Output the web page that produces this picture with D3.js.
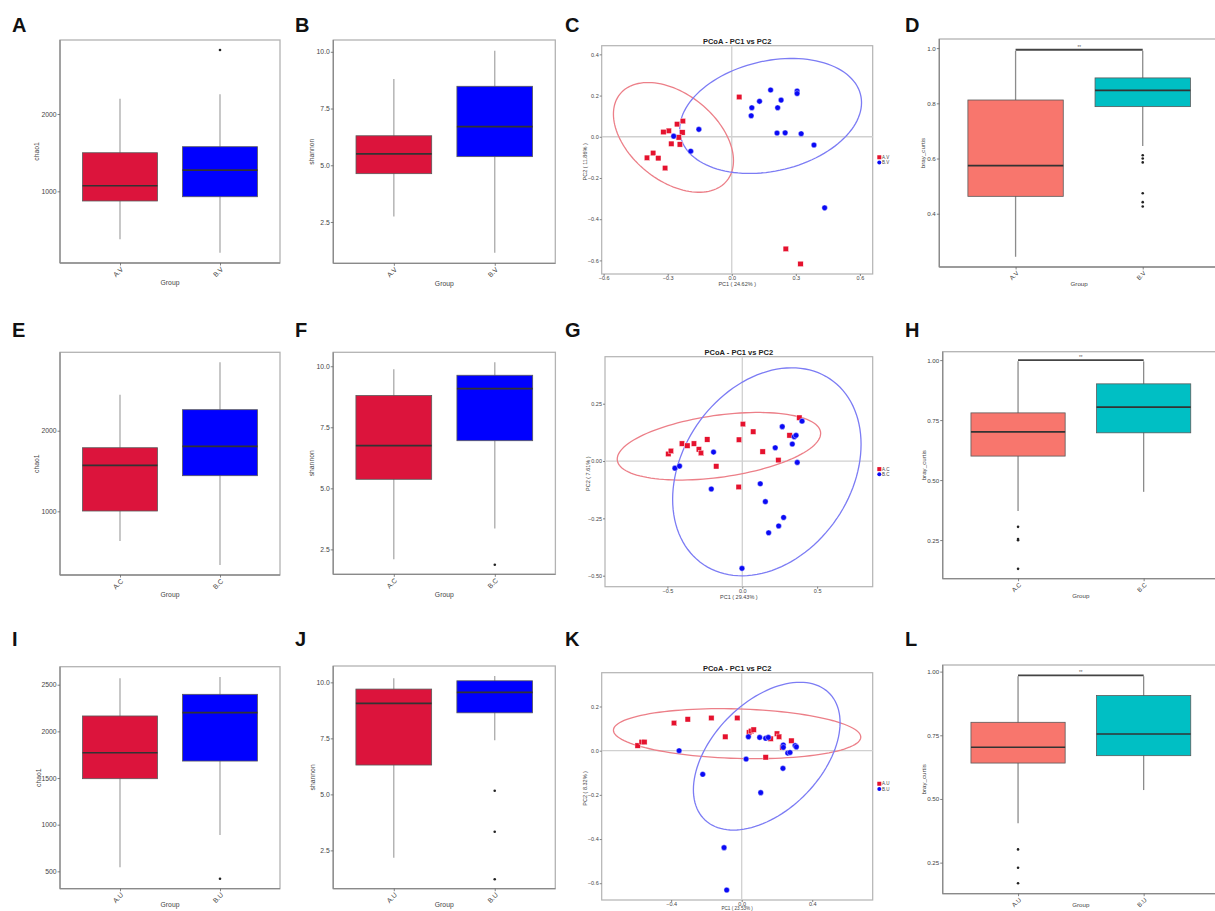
<!DOCTYPE html>
<html><head><meta charset="utf-8">
<script src="https://cdn.jsdelivr.net/npm/d3@7"></script>
<style>
body{margin:0;background:#fff}
svg{display:block;font-family:"Liberation Sans",Arial,sans-serif}
</style>
</head><body>
<script>
// ---------------- DATA ----------------
const groupsV = ["A.V", "B.V"];
const groupsC = ["A.C", "B.C"];
const groupsU = ["A.U", "B.U"];

// boxplot stats per group: [lower whisker, Q1, median, Q3, upper whisker]
const chao1V = [[379, 875, 1072, 1499, 2198], [206, 930, 1275, 1577, 2255]];
const chao1VOut = [[], [2828]];
const shannonV = [[2.74, 4.63, 5.50, 6.30, 8.80], [1.15, 5.38, 6.70, 8.48, 10.05]];
const shannonVOut = [[], []];
const brayV = [[0.244, 0.463, 0.574, 0.812, 0.990], [0.645, 0.788, 0.847, 0.892, 0.990]];
const brayVOut = [[], [0.612, 0.600, 0.586, 0.474, 0.442, 0.426]];

const chao1C = [[632, 1004, 1571, 1789, 2447], [334, 1442, 1806, 2261, 2849]];
const chao1COut = [[], []];
const shannonC = [[2.10, 5.37, 6.75, 8.80, 9.88], [3.36, 6.95, 9.08, 9.63, 10.16]];
const shannonCOut = [[], [1.87]];
const brayC = [[0.371, 0.600, 0.701, 0.780, 0.995], [0.451, 0.697, 0.804, 0.901, 0.995]];
const brayCOut = [[0.305, 0.254, 0.249, 0.130], []];

const chao1U = [[543, 1493, 1771, 2165, 2569], [889, 1682, 2200, 2397, 2582]];
const chao1UOut = [[], [421]];
const shannonU = [[2.17, 6.31, 9.06, 9.70, 10.18], [7.42, 8.64, 9.55, 10.07, 10.28]];
const shannonUOut = [[], [5.16, 3.33, 1.21]];
const brayU = [[0.405, 0.641, 0.703, 0.801, 0.982], [0.535, 0.670, 0.755, 0.906, 0.982]];
const brayUOut = [[0.302, 0.230, 0.169], []];

// significance bracket heights (bray_curtis panels)
const bracketLevels = [0.994, 1.0, 0.985];
const bracketLabel = "**";

// axis domains and ticks
const chao1VDomain = [73, 2957], chao1VTicks = [1000, 2000];
const chao1CDomain = [210, 2973], chao1CTicks = [1000, 2000];
const chao1UDomain = [314, 2693], chao1UTicks = [500, 1000, 1500, 2000, 2500];
const shannonVDomain = [0.68, 10.52], shannonCDomain = [1.48, 10.57], shannonUDomain = [0.79, 10.73];
const shannonTicks = [2.5, 5.0, 7.5, 10.0];
const brayVDomain = [0.207, 1.033], brayVTicks = [0.4, 0.6, 0.8, 1.0];
const brayCDomain = [0.089, 1.035], brayUDomain = [0.128, 1.026], brayCUTicks = [0.25, 0.50, 0.75, 1.00];

// PCoA points [PC1, PC2]
const pcoaV_A = [[0.035,0.193],[-0.229,0.076],[-0.256,0.061],[-0.295,0.029],[-0.320,0.023],[-0.231,0.021],[-0.248,-0.003],[-0.283,-0.034],[-0.243,-0.037],[-0.368,-0.079],[-0.397,-0.102],[-0.344,-0.104],[-0.312,-0.152],[0.253,-0.544],[0.322,-0.617]];
const pcoaV_B = [[-0.154,0.036],[-0.272,0.003],[-0.192,-0.070],[0.182,0.227],[0.130,0.172],[0.094,0.141],[0.091,0.102],[0.231,0.178],[0.215,0.141],[0.306,0.222],[0.306,0.210],[0.212,0.018],[0.250,0.019],[0.325,0.015],[0.385,-0.040],[0.435,-0.345]];
const pcoaC_A = [[-0.494,0.031],[-0.477,0.044],[-0.403,0.076],[-0.367,0.067],[-0.323,0.076],[-0.290,0.051],[-0.276,0.035],[-0.234,0.094],[-0.174,-0.023],[-0.022,0.093],[0.004,0.161],[0.073,0.128],[0.136,0.041],[0.241,0.004],[-0.024,-0.113],[0.316,0.112],[0.381,0.189]];
const pcoaC_B = [[-0.450,-0.031],[-0.419,-0.022],[-0.192,0.039],[-0.207,-0.122],[-0.002,-0.468],[0.120,-0.099],[0.154,-0.177],[0.176,-0.313],[0.243,-0.283],[0.276,-0.246],[0.220,0.058],[0.267,0.150],[0.334,0.074],[0.347,0.106],[0.359,0.112],[0.367,-0.006],[0.399,0.174]];
const pcoaU_A = [[-0.590,0.023],[-0.567,0.039],[-0.552,0.039],[-0.384,0.125],[-0.306,0.142],[-0.172,0.148],[-0.093,0.063],[-0.025,0.148],[0.042,0.082],[0.053,0.089],[0.068,0.095],[0.164,0.054],[0.200,0.077],[0.212,0.063],[0.136,-0.030],[0.231,0.015],[0.282,0.045]];
const pcoaU_B = [[-0.355,0.000],[-0.221,-0.107],[0.038,0.063],[0.025,-0.038],[0.102,0.060],[0.136,0.056],[0.151,0.060],[0.108,-0.190],[0.236,0.026],[0.236,0.015],[0.234,-0.080],[0.261,-0.011],[0.274,-0.008],[0.303,0.023],[0.310,0.017],[-0.100,-0.439],[-0.085,-0.631]];

// confidence ellipses: [centre PC1, centre PC2, var PC1, cov, var PC2]
const ellipseV = [[-0.273, -0.003, 0.0790, -0.0318, 0.0709], [0.182, 0.101, 0.1812, 0.0275, 0.0779]];
const ellipseC = [[-0.156, 0.0645, 0.4615, 0.0382, 0.02173], [0.164, -0.047, 0.3960, 0.0755, 0.2057]];
const ellipseU = [[-0.026, 0.077, 0.4920, -0.01092, 0.01282], [0.142, -0.025, 0.1730, 0.0632, 0.1119]];

const pcoaVX = [-0.609, 0.660], pcoaVY = [-0.666, 0.442];
const pcoaCX = [-0.917, 0.871], pcoaCY = [-0.548, 0.455];
const pcoaUX = [-0.794, 0.743], pcoaUY = [-0.676, 0.353];
const pcoaVXTicks = [-0.6, -0.3, 0.0, 0.3, 0.6], pcoaVYTicks = [-0.6, -0.4, -0.2, 0.0, 0.2, 0.4];
const pcoaCXTicks = [-0.5, 0.0, 0.5], pcoaCYTicks = [-0.50, -0.25, 0.00, 0.25];
const pcoaUXTicks = [-0.4, 0.0, 0.4], pcoaUYTicks = [-0.6, -0.4, -0.2, 0.0, 0.2];
const pc1Labels = ["PC1 ( 24.62% )", "PC1 ( 29.43% )", "PC1 ( 23.53% )"];
const pc2Labels = ["PC2 ( 11.86% )", "PC2 ( 7.61% )", "PC2 ( 8.32% )"];

const panelLetters = ["A","B","C","D","E","F","G","H","I","J","K","L"];

// ---------------- LAYOUT / STYLE ----------------
const W = 1215, H = 911;
const maxTextY = 905;
const alphaFills = ["#DC143C", "#0000FF"];
const brayFills = ["#F8766D", "#00BFC4"];
const ptColors = ["#E5122E", "#0A0AF5"];
const ellColors = ["#EC7F88", "#7C7CF4"];

const svg = d3.select("body").append("svg").attr("width", W).attr("height", H);

function styleAxis(ax, fs) {
  ax.select(".domain").remove();
  ax.selectAll(".tick line").attr("stroke", "#666").attr("stroke-width", 0.8);
  ax.selectAll(".tick text").attr("fill", "#444").style("font-size", fs + "px");
}

function boxPanel(p) {
  const [x0, y0, x1, y1] = p.frame;
  const g = svg.append("g");
  const x = d3.scalePoint().domain(p.cats).range([x0, x1]).padding(0.6);
  const y = d3.scaleLinear().domain(p.domain).range([y1, y0]);
  const bw = x.step() * 0.75;
  g.append("rect").attr("x", x0).attr("y", y0).attr("width", x1 - x0).attr("height", y1 - y0)
    .attr("fill", "#fff").attr("stroke", "#b3b3b3").attr("stroke-width", 1.3);
  g.append("line").attr("x1", x0).attr("x2", x0).attr("y1", y0).attr("y2", y1).attr("stroke", "#8a8a8a").attr("stroke-width", 1.3);
  g.append("line").attr("x1", x0).attr("x2", x1).attr("y1", y1).attr("y2", y1).attr("stroke", "#8a8a8a").attr("stroke-width", 1.3);

  const ya = g.append("g").attr("transform", `translate(${x0},0)`)
    .call(d3.axisLeft(y).tickValues(p.ticks).tickSize(2.5).tickPadding(1).tickFormat(p.fmt));
  styleAxis(ya, p.fs);
  const xa = g.append("g").attr("transform", `translate(0,${y1})`)
    .call(d3.axisBottom(x).tickSize(2.5).tickFormat(""));
  styleAxis(xa, p.fs);
  p.cats.forEach(c => {
    const tx = x(c) + 2, ty = y1 + 5;
    g.append("text").attr("x", tx).attr("y", ty).attr("dy", "0.35em")
      .attr("text-anchor", "end").attr("transform", `rotate(-45,${tx},${ty})`)
      .attr("fill", "#444").style("font-size", p.fs + "px").text(c);
  });
  g.append("text").attr("x", (x0 + x1) / 2).attr("y", Math.min(y1 + p.xtOff, maxTextY)).attr("text-anchor", "middle")
    .attr("dy", "0.35em").attr("fill", "#444").style("font-size", p.fs + "px").text("Group");
  const ytx = x0 - p.ytOff, yty = (y0 + y1) / 2;
  g.append("text").attr("x", ytx).attr("y", yty).attr("text-anchor", "middle").attr("dy", "0.35em")
    .attr("transform", `rotate(-90,${ytx},${yty})`).attr("fill", "#444")
    .style("font-size", p.fs + "px").text(p.ytitle);

  p.cats.forEach((c, i) => {
    const s = p.stats[i], cx = x(c);
    g.append("line").attr("x1", cx).attr("x2", cx).attr("y1", y(s[0])).attr("y2", y(s[4]))
      .attr("stroke", p.whiskColor).attr("stroke-width", 1.3);
    g.append("rect").attr("x", cx - bw / 2).attr("width", bw).attr("y", y(s[3])).attr("height", y(s[1]) - y(s[3]))
      .attr("fill", p.fills[i]).attr("stroke", "#5a5a5a").attr("stroke-width", 0.8);
    g.append("line").attr("x1", cx - bw / 2).attr("x2", cx + bw / 2).attr("y1", y(s[2])).attr("y2", y(s[2]))
      .attr("stroke", "#333").attr("stroke-width", 1.7);
    p.outs[i].forEach(v => {
      g.append("circle").attr("cx", cx).attr("cy", y(v)).attr("r", 1.3).attr("fill", "#222");
    });
  });
  if (p.bracket !== undefined) {
    const by = y(p.bracket);
    g.append("line").attr("x1", x(p.cats[0])).attr("x2", x(p.cats[1])).attr("y1", by).attr("y2", by)
      .attr("stroke", "#444").attr("stroke-width", 1.8);
    g.append("text").attr("x", (x(p.cats[0]) + x(p.cats[1])) / 2).attr("y", by - 1)
      .attr("text-anchor", "middle").attr("fill", "#555").style("font-size", "4.5px").text(bracketLabel);
  }
}

function pcoaPanel(p) {
  const [x0, y0, x1, y1] = p.frame;
  const g = svg.append("g");
  const x = d3.scaleLinear().domain(p.xdom).range([x0, x1]);
  const y = d3.scaleLinear().domain(p.ydom).range([y1, y0]);
  g.append("rect").attr("x", x0).attr("y", y0).attr("width", x1 - x0).attr("height", y1 - y0)
    .attr("fill", "#fff").attr("stroke", "#b3b3b3").attr("stroke-width", 1.2);
  g.append("line").attr("x1", x(0)).attr("x2", x(0)).attr("y1", y0).attr("y2", y1).attr("stroke", "#d0d0d0").attr("stroke-width", 1.3);
  g.append("line").attr("x1", x0).attr("x2", x1).attr("y1", y(0)).attr("y2", y(0)).attr("stroke", "#d0d0d0").attr("stroke-width", 1.3);

  const ya = g.append("g").attr("transform", `translate(${x0},0)`)
    .call(d3.axisLeft(y).tickValues(p.yticks).tickSize(2).tickPadding(1).tickFormat(p.yfmt));
  styleAxis(ya, 5.5);
  const xa = g.append("g").attr("transform", `translate(0,${y1})`)
    .call(d3.axisBottom(x).tickValues(p.xticks).tickSize(2).tickPadding(0.3).tickFormat(d3.format(".1f")));
  styleAxis(xa, 5.5);

  g.append("text").attr("x", (x0 + x1) / 2).attr("y", y0 - 4).attr("text-anchor", "middle").attr("dy", "0.35em")
    .attr("fill", "#222").style("font-size", "7.5px").style("font-weight", "bold").text("PCoA - PC1 vs PC2");
  const clamped = y1 + 10.5 > 908.8;
  g.append("text").attr("x", (x0 + x1) / 2).attr("y", clamped ? 908.8 : y1 + 10.5).attr("text-anchor", "middle").attr("dy", "0.35em")
    .attr("fill", "#444").style("font-size", clamped ? "4.6px" : "5.5px").text(p.xtitle);
  const ytx = x0 - 17, yty = (y0 + y1) / 2 + 2;
  g.append("text").attr("x", ytx).attr("y", yty).attr("text-anchor", "middle").attr("dy", "0.35em")
    .attr("transform", `rotate(-90,${ytx},${yty})`).attr("fill", "#444").style("font-size", "5.5px").text(p.ytitle);

  const line = d3.line().x(d => x(d[0])).y(d => y(d[1])).curve(d3.curveLinearClosed);
  p.ellipses.forEach((e, i) => {
    const [cx, cy, sxx, sxy, syy] = e;
    const l11 = Math.sqrt(sxx), l21 = sxy / l11, l22 = Math.sqrt(syy - l21 * l21);
    const pts = d3.range(0, 361, 3).map(a => {
      const t = a * Math.PI / 180;
      return [cx + l11 * Math.cos(t), cy + l21 * Math.cos(t) + l22 * Math.sin(t)];
    });
    g.append("path").attr("d", line(pts)).attr("fill", "none").attr("stroke", ellColors[i]).attr("stroke-width", 1.3);
  });
  p.ptsA.forEach(d => {
    g.append("rect").attr("x", x(d[0]) - 2.7).attr("y", y(d[1]) - 2.7).attr("width", 5.4).attr("height", 5.4)
      .attr("fill", ptColors[0]).attr("stroke", "#fff").attr("stroke-width", 0.4);
  });
  p.ptsB.forEach(d => {
    g.append("circle").attr("cx", x(d[0])).attr("cy", y(d[1])).attr("r", 2.8)
      .attr("fill", ptColors[1]).attr("stroke", "#fff").attr("stroke-width", 0.4);
  });
  // legend
  const lx = x1 + 6.6, ly = (y0 + y1) / 2;
  g.append("rect").attr("x", lx - 2).attr("y", ly - 2.6 - 2).attr("width", 4).attr("height", 4).attr("fill", ptColors[0]);
  g.append("circle").attr("cx", lx).attr("cy", ly + 2.6).attr("r", 2).attr("fill", ptColors[1]);
  p.cats.forEach((c, i) => {
    g.append("text").attr("x", lx + 2.8).attr("y", ly + (i ? 2.6 : -2.6)).attr("dy", "0.35em")
      .attr("fill", "#444").style("font-size", "4.5px").text(c);
  });
}

const chaoFmt = d3.format("d"), shanFmt = d3.format(".1f");
const brayFmt1 = d3.format(".1f"), brayFmt2 = d3.format(".2f");

// Row 1
boxPanel({frame: [60, 40, 280, 263], cats: groupsV, stats: chao1V, outs: chao1VOut, domain: chao1VDomain, ticks: chao1VTicks, fmt: chaoFmt, ytitle: "chao1", fills: alphaFills, fs: 6.8, whiskColor: "#aaaaaa", xtOff: 20, ytOff: 23});
boxPanel({frame: [333.3, 40, 555.3, 263.3], cats: groupsV, stats: shannonV, outs: shannonVOut, domain: shannonVDomain, ticks: shannonTicks, fmt: shanFmt, ytitle: "shannon", fills: alphaFills, fs: 6.8, whiskColor: "#aaaaaa", xtOff: 20, ytOff: 22});
pcoaPanel({frame: [601.7, 45.7, 872.7, 274], xdom: pcoaVX, ydom: pcoaVY, xticks: pcoaVXTicks, yticks: pcoaVYTicks, yfmt: d3.format(".1f"), ptsA: pcoaV_A, ptsB: pcoaV_B, ellipses: ellipseV, cats: groupsV, xtitle: pc1Labels[0], ytitle: pc2Labels[0]});
boxPanel({frame: [939.3, 39, 1219, 267], cats: groupsV, stats: brayV, outs: brayVOut, domain: brayVDomain, ticks: brayVTicks, fmt: brayFmt1, ytitle: "bray_curtis", fills: brayFills, fs: 6.2, whiskColor: "#8c8c8c", xtOff: 17, ytOff: 16, bracket: bracketLevels[0]});

// Row 2
boxPanel({frame: [60, 352.3, 280, 575], cats: groupsC, stats: chao1C, outs: chao1COut, domain: chao1CDomain, ticks: chao1CTicks, fmt: chaoFmt, ytitle: "chao1", fills: alphaFills, fs: 6.8, whiskColor: "#aaaaaa", xtOff: 20, ytOff: 23});
boxPanel({frame: [333.2, 352.3, 555.4, 574.3], cats: groupsC, stats: shannonC, outs: shannonCOut, domain: shannonCDomain, ticks: shannonTicks, fmt: shanFmt, ytitle: "shannon", fills: alphaFills, fs: 6.8, whiskColor: "#aaaaaa", xtOff: 20, ytOff: 22});
pcoaPanel({frame: [605, 356.7, 872.7, 586.7], xdom: pcoaCX, ydom: pcoaCY, xticks: pcoaCXTicks, yticks: pcoaCYTicks, yfmt: d3.format(".2f"), ptsA: pcoaC_A, ptsB: pcoaC_B, ellipses: ellipseC, cats: groupsC, xtitle: pc1Labels[1], ytitle: pc2Labels[1]});
boxPanel({frame: [942.7, 351.7, 1219, 578.7], cats: groupsC, stats: brayC, outs: brayCOut, domain: brayCDomain, ticks: brayCUTicks, fmt: brayFmt2, ytitle: "bray_curtis", fills: brayFills, fs: 6.2, whiskColor: "#8c8c8c", xtOff: 17, ytOff: 19, bracket: bracketLevels[1]});

// Row 3
boxPanel({frame: [60, 666.7, 280, 888.7], cats: groupsU, stats: chao1U, outs: chao1UOut, domain: chao1UDomain, ticks: chao1UTicks, fmt: chaoFmt, ytitle: "chao1", fills: alphaFills, fs: 6.8, whiskColor: "#aaaaaa", xtOff: 20, ytOff: 21});
boxPanel({frame: [333.2, 666, 555.3, 888.7], cats: groupsU, stats: shannonU, outs: shannonUOut, domain: shannonUDomain, ticks: shannonTicks, fmt: shanFmt, ytitle: "shannon", fills: alphaFills, fs: 6.8, whiskColor: "#aaaaaa", xtOff: 20, ytOff: 21});
pcoaPanel({frame: [601.7, 672.7, 872.7, 900], xdom: pcoaUX, ydom: pcoaUY, xticks: pcoaUXTicks, yticks: pcoaUYTicks, yfmt: d3.format(".1f"), ptsA: pcoaU_A, ptsB: pcoaU_B, ellipses: ellipseU, cats: groupsU, xtitle: pc1Labels[2], ytitle: pc2Labels[2]});
boxPanel({frame: [942.7, 665, 1219, 893.7], cats: groupsU, stats: brayU, outs: brayUOut, domain: brayUDomain, ticks: brayCUTicks, fmt: brayFmt2, ytitle: "bray_curtis", fills: brayFills, fs: 6.2, whiskColor: "#8c8c8c", xtOff: 17, ytOff: 19, bracket: bracketLevels[2]});

// panel letters
const letterX = [12, 295, 565, 905];
const letterY = [31.7, 336.7, 646];
panelLetters.forEach((L, i) => {
  svg.append("text").attr("x", letterX[i % 4]).attr("y", letterY[Math.floor(i / 4)])
    .attr("fill", "#111").style("font-size", "20px").style("font-weight", "bold").text(L);
});
</script>
</body></html>
